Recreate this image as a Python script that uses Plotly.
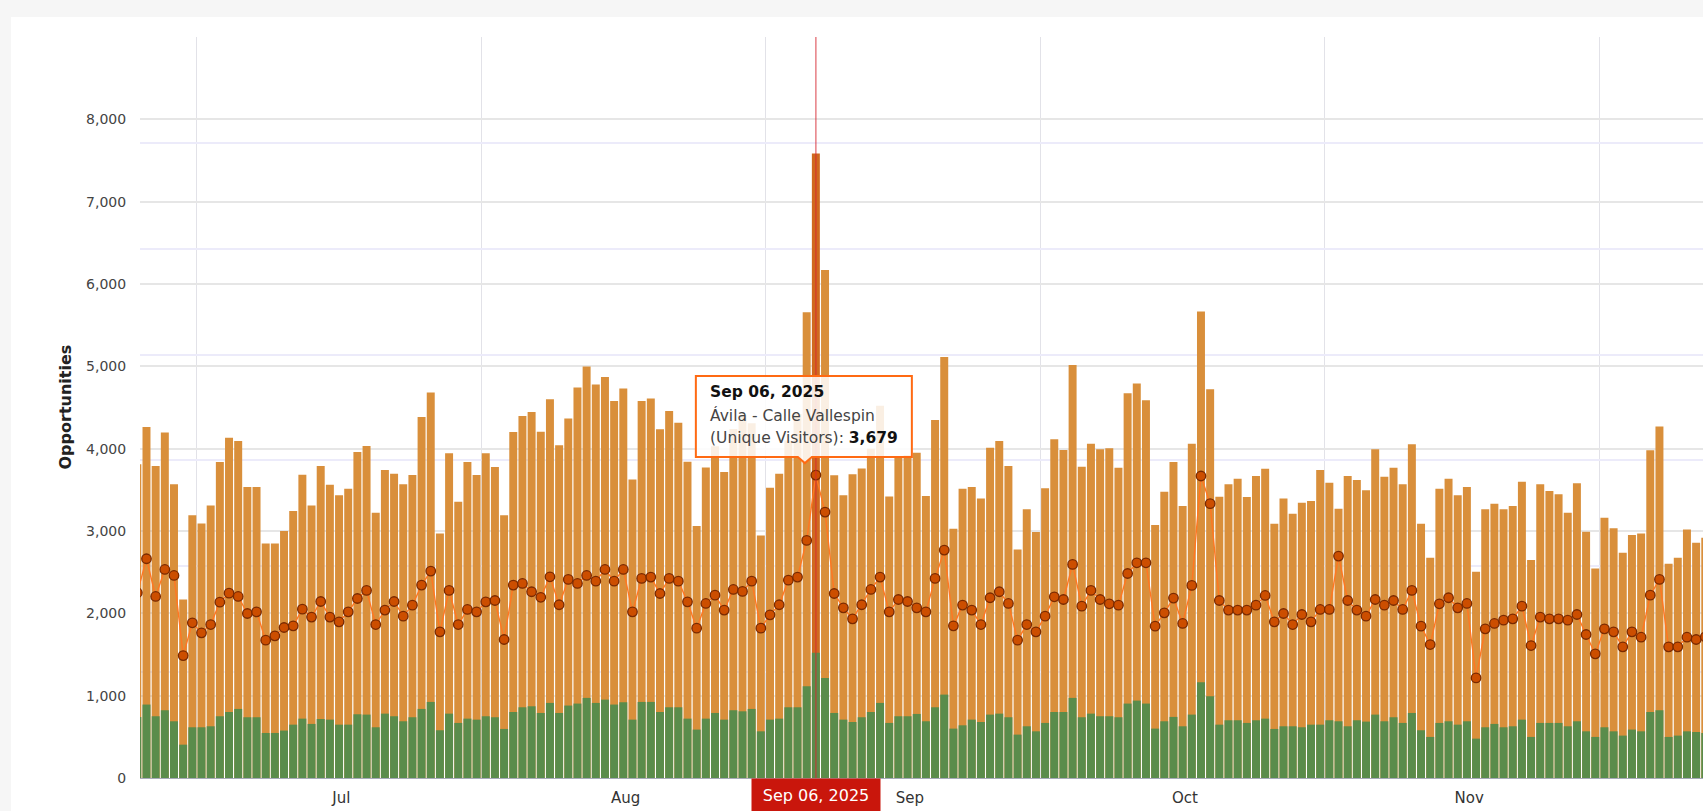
import pandas as pd
import plotly.graph_objects as go

# ---------------- data ----------------
start_date = "2025-06-24"

opportunities_total = [
    3810, 4264, 3790, 4195, 3567, 2168, 3190, 3092, 3311, 3838,
    4134, 4093, 3534, 3534, 2849, 2849, 2999, 3242, 3684, 3311,
    3790, 3563, 3433, 3514, 3960, 4033, 3222, 3741, 3696, 3567,
    3680, 4385, 4681, 2971, 3943, 3356, 3838, 3680, 3943, 3777,
    3190, 4203, 4397, 4446, 4205, 4600, 4041, 4365, 4742, 4998,
    4780, 4870, 4580, 4730, 3627, 4580, 4610, 4235, 4458, 4316,
    3840, 3060, 3770, 4030, 3716, 4240, 4410, 4310, 2946, 3526,
    3696, 4100, 4420, 5657, 7586, 6171, 3676, 3433, 3688, 3760,
    4000, 4520, 3420, 3900, 3920, 3950, 3425, 4349, 5114, 3028,
    3514, 3534, 3396, 4012, 4093, 3790, 2776, 3263, 2987, 3518,
    4114, 3984, 5015, 3781, 4061, 3992, 4004, 3769, 4673, 4791,
    4588, 3072, 3477, 3838, 3303, 4061, 5666, 4722, 3417, 3567,
    3636, 3413, 3668, 3757, 3088, 3396, 3210, 3344, 3364, 3741,
    3587, 3271, 3668, 3619, 3494, 3992, 3660, 3769, 3567, 4053,
    3088, 2675, 3514, 3636, 3433, 3534, 2505, 3263, 3332, 3263,
    3303, 3599, 2647, 3567, 3486, 3445, 3222, 3579, 2991, 2545,
    3161, 3032, 2736, 2951, 2971, 3980, 4268, 2602, 2675, 3019,
    2857, 2918,
]

opportunities_green = [
    742, 892, 750, 823, 689, 405, 616, 616, 628, 750,
    802, 839, 738, 738, 547, 547, 576, 648, 721, 657,
    717, 709, 648, 648, 774, 770, 616, 782, 750, 689,
    738, 839, 924, 580, 782, 669, 721, 709, 750, 738,
    596, 802, 859, 871, 790, 912, 790, 880, 904, 973,
    912, 952, 892, 920, 709, 924, 924, 802, 859, 859,
    721, 588, 721, 790, 709, 823, 810, 839, 567, 709,
    721, 859, 859, 1115, 1520, 1216, 790, 709, 680, 738,
    802, 912, 669, 750, 750, 778, 689, 859, 1013, 600,
    640, 709, 680, 770, 782, 738, 527, 628, 567, 669,
    802, 802, 973, 738, 782, 750, 750, 738, 904, 940,
    904, 600, 689, 742, 628, 770, 1163, 993, 648, 701,
    701, 669, 701, 721, 596, 628, 628, 616, 648, 648,
    701, 689, 628, 701, 685, 770, 689, 738, 669, 790,
    580, 499, 669, 689, 648, 689, 478, 616, 657, 616,
    628, 709, 499, 669, 669, 669, 628, 689, 567, 499,
    616, 567, 515, 588, 567, 802, 823, 499, 515, 567,
    559, 547,
]

unique_visitors = [
    2250, 2663, 2205, 2533, 2460, 1487, 1885, 1763, 1864, 2136,
    2245, 2205, 1998, 2018, 1674, 1727, 1828, 1848, 2051, 1954,
    2144, 1954, 1897, 2018, 2180, 2278, 1864, 2039, 2144, 1966,
    2099, 2343, 2513, 1775, 2278, 1864, 2047, 2018, 2140, 2156,
    1682, 2343, 2363, 2262, 2195, 2444, 2104, 2412, 2363, 2460,
    2391, 2533, 2391, 2533, 2018, 2424, 2440, 2241, 2424, 2391,
    2140, 1820, 2120, 2221, 2039, 2290, 2266, 2391, 1820, 1982,
    2104, 2403, 2440, 2886, 3679, 3230, 2241, 2067, 1933, 2104,
    2290, 2440, 2018, 2168, 2144, 2067, 2018, 2424, 2768, 1848,
    2100, 2039, 1864, 2189, 2262, 2120, 1674, 1864, 1775, 1966,
    2201, 2168, 2594, 2087, 2278, 2168, 2116, 2099, 2484, 2614,
    2614, 1844, 2006, 2185, 1877, 2339, 3668, 3332, 2156, 2039,
    2039, 2039, 2099, 2217, 1897, 1998, 1864, 1986, 1897, 2047,
    2047, 2695, 2156, 2039, 1966, 2168, 2099, 2156, 2047, 2278,
    1844, 1621, 2116, 2189, 2067, 2120, 1216, 1812, 1877, 1917,
    1933, 2087, 1609, 1954, 1933, 1933, 1917, 1986, 1743, 1508,
    1812, 1775, 1593, 1775, 1710, 2221, 2412, 1593, 1593, 1710,
    1682, 1714,
]

month_starts = ["2025-07-01", "2025-08-01", "2025-09-01", "2025-10-01", "2025-11-01", "2025-12-01"]
month_labels = ["Jul", "Aug", "Sep", "Oct", "Nov"]
y_tick_values = [0, 1000, 2000, 3000, 4000, 5000, 6000, 7000, 8000]
y_range = [0, 9000]
x_range = ["2025-06-24 19:00", "2025-12-12 06:00"]

highlight_date = "2025-09-06"
highlight_label = "Sep 06, 2025"
location_name = "Ávila - Calle Vallespin"
series_label = "(Unique Visitors)"
y_title = "Opportunities"

# ---------------- geometry / style ----------------
W, H = 1703, 811
L, R, T, B = 140, 0, 37, 33
PW, PH = W - L - R, H - T - B
FONT = "DejaVu Sans, Verdana, sans-serif"

ORANGE = "#D98F3B"
ORANGE_HI = "#D0691F"
GREEN = "#5A8C4B"
LINE = "#FF7722"
MARKER = "#CC4E00"
MARKER_EDGE = "#7A2A00"
TIP_BORDER = "#FF6A13"
SPIKE_RED = "#C9160C"
GRID_V = "#E2E2E8"

DAY_MS = 86400000

dates = pd.date_range(start_date, periods=len(opportunities_total), freq="D")
hl = pd.Timestamp(highlight_date)
hl_idx = list(dates).index(hl)
hl_value = unique_visitors[hl_idx]
hl_mid = hl + pd.Timedelta(hours=12)

bar_colors = [ORANGE_HI if d == hl else ORANGE for d in dates]

# month labels sit a little past the middle of each month
label_positions = [pd.Timestamp(m) + pd.Timedelta(days=15, hours=18) for m in month_starts[:len(month_labels)]]


def px_x(px):
    return (px - L) / PW


def px_y(py):
    return (H - B - py) / PH


fig = go.Figure()

fig.add_trace(go.Bar(
    x=dates, y=opportunities_total, name="Opportunities",
    marker=dict(color=bar_colors, line=dict(width=0)),
    xperiod=DAY_MS, xperiodalignment="middle", hoverinfo="skip",
))
fig.add_trace(go.Bar(
    x=dates, y=opportunities_green, name="Opportunities (converted)",
    marker=dict(color=GREEN, line=dict(width=0)),
    xperiod=DAY_MS, xperiodalignment="middle", hoverinfo="skip",
))
fig.add_trace(go.Scatter(
    x=dates, y=unique_visitors, name=series_label,
    mode="lines+markers",
    line=dict(color=LINE, width=1.4),
    marker=dict(size=9.5, color=MARKER, line=dict(color=MARKER_EDGE, width=1.3)),
    xperiod=DAY_MS, xperiodalignment="middle", hoverinfo="skip",
))
# secondary (empty) axis that carries the lavender grid
fig.add_trace(go.Scatter(
    x=[dates[0]], y=[0], yaxis="y2", mode="markers",
    marker=dict(opacity=0), showlegend=False, hoverinfo="skip",
))

fig.update_layout(
    width=W, height=H,
    margin=dict(l=L, r=R, t=T, b=B, pad=0),
    paper_bgcolor="white", plot_bgcolor="white",
    barmode="overlay", bargap=0.13,
    showlegend=False,
    font=dict(family=FONT, size=13, color="#333"),
    xaxis=dict(
        type="date", range=x_range,
        tickmode="array", tickvals=label_positions, ticktext=month_labels,
        showgrid=False,
        minor=dict(tickmode="array", tickvals=month_starts, showgrid=True,
                   gridcolor=GRID_V, gridwidth=1, ticks=""),
        showline=True, linecolor="#A6AAB9", linewidth=1,
        ticks="outside", ticklen=6, tickcolor="rgba(0,0,0,0)",
        tickfont=dict(size=15, color="#333"),
        zeroline=False,
    ),
    yaxis=dict(
        range=y_range, tickvals=y_tick_values, tickformat=",",
        showgrid=True, gridcolor="#E6E6E6", gridwidth=1.5,
        zeroline=False, showline=False,
        ticks="outside", ticklen=10, tickcolor="rgba(0,0,0,0)",
        tickfont=dict(size=14, color="#444"),
    ),
    yaxis2=dict(
        overlaying="y", side="right", range=[0, 7], dtick=1,
        showgrid=True, gridcolor="#ECEBFA", gridwidth=1.5,
        showticklabels=False, zeroline=False, showline=False, ticks="",
    ),
)

shapes = [
    # grey page strips around the white card
    dict(type="rect", xref="paper", yref="paper", layer="below",
         x0=px_x(0), x1=px_x(W), y0=px_y(17), y1=px_y(0),
         fillcolor="#F6F6F6", line=dict(width=0)),
    dict(type="rect", xref="paper", yref="paper", layer="below",
         x0=px_x(0), x1=px_x(11), y0=px_y(H), y1=px_y(0),
         fillcolor="#F6F6F6", line=dict(width=0)),
    # hover spike line
    dict(type="line", xref="x", yref="paper", x0=hl_mid, x1=hl_mid, y0=0, y1=1,
         line=dict(color="rgba(214,40,50,0.6)", width=1.5), layer="above"),
    # tooltip box with pointer, anchored to the hovered point
    dict(type="path", xref="x", yref="y", xsizemode="pixel", ysizemode="pixel",
         xanchor=hl_mid, yanchor=hl_value,
         path="M -120,99 L 96,99 L 96,18 L -4,18 L -11,12 L -18,18 L -120,18 Z",
         fillcolor="rgba(255,255,255,0.86)", line=dict(color=TIP_BORDER, width=2),
         layer="above"),
]
fig.update_layout(shapes=shapes)

TIP_SIZE = 15.5
annotations = [
    dict(text=f"<b>{y_title}</b>", xref="paper", yref="paper",
         x=px_x(65), y=0.5, textangle=-90, showarrow=False,
         xanchor="center", yanchor="middle",
         font=dict(size=16, color="#222", family=FONT)),
    dict(text=highlight_label, xref="x", yref="paper", x=hl_mid, y=0,
         xanchor="center", yanchor="top", showarrow=False,
         bgcolor=SPIKE_RED, borderpad=5, width=118, height=22,
         font=dict(size=16, color="white", family=FONT)),
    dict(text=f"<b>{highlight_label}</b>", xref="x", yref="y", x=hl_mid, y=hl_value,
         xanchor="left", yanchor="middle", xshift=-108, yshift=83, showarrow=False,
         font=dict(size=TIP_SIZE, color="#111", family=FONT)),
    dict(text=location_name, xref="x", yref="y", x=hl_mid, y=hl_value,
         xanchor="left", yanchor="middle", xshift=-108, yshift=60, showarrow=False,
         font=dict(size=TIP_SIZE, color="#444", family=FONT)),
    dict(text=f"{series_label}: <b><span style='color:#111'>{hl_value:,}</span></b>",
         xref="x", yref="y", x=hl_mid, y=hl_value,
         xanchor="left", yanchor="middle", xshift=-108, yshift=37, showarrow=False,
         font=dict(size=TIP_SIZE, color="#444", family=FONT)),
]
fig.update_layout(annotations=annotations)

fig.write_html(
    "out.html",
    config={"displayModeBar": False},
    post_script="document.body.style.margin='0';document.body.style.overflow='hidden';",
)
